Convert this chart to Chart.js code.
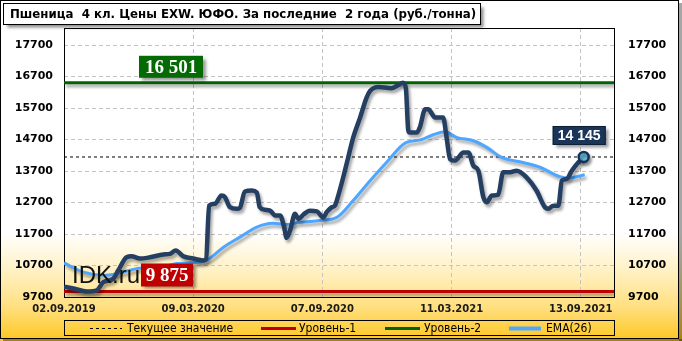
<!DOCTYPE html>
<html>
<head>
<meta charset="utf-8">
<script src="https://cdn.jsdelivr.net/npm/chart.js@4.4.1/dist/chart.umd.min.js"></script>
<style>
  html, body { margin: 0; padding: 0; background: #fff; }
  canvas { display: block; }
</style>
</head>
<body>
<canvas id="wheatChart" width="682" height="341"></canvas>
<script>
// --- data (x = weeks since 02.09.2019) ---
const titleText = 'Пшеница  4 кл. Цены EXW. ЮФО. За последние  2 года (руб./тонна)';
const xTickWeeks = [0, 26, 52, 78, 104];
const xTickLabels = ['02.09.2019', '09.03.2020', '07.09.2020', '11.03.2021', '13.09.2021'];
const yTicks = [9700, 10700, 11700, 12700, 13700, 14700, 15700, 16700, 17700];
const xMax = 110.7;
const yMin = 9700;
const yMax = 18240;

const priceWeeks = [0, 1.9, 4.6, 6.6, 7.9, 9.9, 10.9, 12.6, 13.6, 15.3, 17.3, 20.0, 21.3, 22.5, 24.0, 26.0,
  28.0, 28.6, 29.2, 30.4, 31.7, 32.4, 33.4, 34.8, 35.4, 36.4, 37.8, 38.8, 39.4, 40.5, 41.5, 42.5, 43.5,
  44.3, 44.8, 45.5, 46.5, 47.2, 48.2, 49.5, 50.9, 52.2, 52.9, 53.9, 54.5, 55.2, 56.2, 57.2, 58.2, 59.6,
  60.9, 61.6, 63.3, 65.9, 67.3, 68.2, 68.8, 69.3, 69.6, 71.0, 71.6, 72.7, 73.3, 74.7, 76.3, 77.0, 77.7,
  78.7, 80.4, 81.4, 82.4, 83.4, 84.4, 85.1, 86.1, 87.4, 88.4, 89.8, 91.1, 93.1, 95.1, 96.8, 97.5, 98.5,
  99.5, 100.2, 101.2, 102.2, 103.5, 104.6];
const priceValues = [10030, 9970, 9875, 9910, 10170, 10280, 10540, 10960, 10990, 10920, 10960, 11050, 11070, 11180, 10990, 10920,
  10860, 10900, 12600, 12660, 12920, 12870, 12550, 12500, 12530, 13050, 13080, 13020, 12550, 12470, 12440, 12290, 12290,
  11920, 11580, 11810, 12340, 12180, 12320, 12440, 12420, 12230, 12400, 12550, 12600, 12920, 13500, 14130, 14760, 15400,
  16030, 16240, 16370, 16330, 16430, 16501, 16330, 14980, 14920, 14920, 15080, 15660, 15660, 15400, 15400, 14770, 14080,
  14030, 14290, 14290, 13870, 13710, 12870, 12710, 12920, 12950, 13660, 13660, 13710, 13500, 13080, 12550, 12500, 12600,
  12600, 13390, 13450, 13710, 13970, 14145];

const emaWeeks = [0, 3.9, 7.9, 10.6, 14.6, 19.3, 22.7, 27.4, 28.7, 32.1, 35.4, 38.8, 42.1, 44.8, 47.5, 51.5,
  54.9, 58.2, 61.6, 64.9, 68.9, 71.6, 74.3, 76.7, 79.0, 82.4, 85.1, 88.1, 92.4, 95.8, 99.8, 101.8, 104.8];
const emaValues = [10780, 10490, 10390, 10440, 10600, 10650, 10760, 10810, 10860, 11280, 11600, 11920, 12040, 12000, 12070, 12130,
  12230, 12760, 13390, 13970, 14610, 14680, 14850, 14950, 14770, 14660, 14450, 14130, 13970, 13820, 13520, 13480, 13580];

const currentValue = 14145;
const level1 = 9875;
const level2 = 16501;
const legendNames = ['Текущее значение', 'Уровень-1', 'Уровень-2', 'EMA(26)'];

const pts = (xs, ys) => xs.map((x, i) => ({ x: x, y: ys[i] }));
const flat = v => [{ x: 0, y: v }, { x: xMax, y: v }];
const fmt = v => String(v).replace(/\B(?=(\d{3})+(?!\d))/g, ' ');

// background, outer frame and title box
const backdrop = {
  id: 'backdrop',
  beforeDraw(chart) {
    const ctx = chart.ctx;
    ctx.save();
    const g = ctx.createLinearGradient(0, 0, 0, 341);
    g.addColorStop(0, '#ffffff');
    g.addColorStop(0.68, '#ffffff');
    g.addColorStop(0.78, '#fff3cc');
    g.addColorStop(0.9, '#ffe080');
    g.addColorStop(1, '#ffc620');
    ctx.fillStyle = g;
    ctx.fillRect(0, 0, 682, 341);
    ctx.fillStyle = 'rgba(0,0,0,0.35)';
    ctx.fillRect(679, 3, 3, 338);
    ctx.fillRect(3, 339, 679, 2);
    ctx.strokeStyle = '#000';
    ctx.lineWidth = 1;
    ctx.strokeRect(0.5, 0.5, 678, 338);

    ctx.shadowColor = 'rgba(0,0,0,0.45)';
    ctx.shadowBlur = 3;
    ctx.shadowOffsetX = 3;
    ctx.shadowOffsetY = 3;
    ctx.fillStyle = '#fff';
    ctx.fillRect(3.5, 3.5, 477, 21);
    ctx.shadowColor = 'transparent';
    ctx.strokeStyle = '#000';
    ctx.strokeRect(3.5, 3.5, 477, 21);
    ctx.fillStyle = '#000';
    ctx.font = 'bold 13.1px "DejaVu Sans Condensed"';
    ctx.textBaseline = 'middle';
    ctx.fillText(titleText, 10, 14.5);
    ctx.restore();
  },
  beforeDatasetsDraw(chart) {
    const { ctx, chartArea: a } = chart;
    ctx.save();
    ctx.strokeStyle = '#000';
    ctx.lineWidth = 1;
    ctx.strokeRect(Math.round(a.left) + 0.5, Math.round(a.top) + 0.5, Math.round(a.right - a.left), Math.round(a.bottom - a.top));
    ctx.restore();
  }
};

const shadows = {
  id: 'shadows',
  beforeDatasetDraw(chart, args) {
    if (!chart.data.datasets[args.index].shadow) return;
    const ctx = chart.ctx;
    ctx.save();
    ctx.shadowColor = 'rgba(0,0,0,0.35)';
    ctx.shadowBlur = 3;
    ctx.shadowOffsetX = 2;
    ctx.shadowOffsetY = 3;
  },
  afterDatasetDraw(chart, args) {
    if (chart.data.datasets[args.index].shadow) chart.ctx.restore();
  }
};

function tag(ctx, text, x, top, w, h, bg, font, border) {
  ctx.save();
  ctx.shadowColor = 'rgba(0,0,0,0.4)';
  ctx.shadowBlur = 3;
  ctx.shadowOffsetX = 3;
  ctx.shadowOffsetY = 3;
  ctx.fillStyle = bg;
  ctx.fillRect(x, top, w, h);
  ctx.shadowColor = 'transparent';
  if (border) {
    ctx.strokeStyle = border;
    ctx.lineWidth = 1;
    ctx.strokeRect(x + 0.5, top + 0.5, w - 1, h - 1);
  }
  ctx.fillStyle = '#fff';
  ctx.font = font;
  ctx.textAlign = 'center';
  ctx.textBaseline = 'middle';
  ctx.fillText(text, x + w / 2, top + h / 2 + 1);
  ctx.restore();
}

const labels = {
  id: 'labels',
  afterDatasetsDraw(chart) {
    const ctx = chart.ctx;
    const y = chart.scales.y;
    const x = chart.scales.x;
    ctx.save();
    ctx.fillStyle = '#111';
    ctx.font = '24px "Liberation Sans"';
    ctx.textBaseline = 'alphabetic';
    ctx.fillText('IDK.ru', 72, 283);
    ctx.restore();
    tag(ctx, fmt(level2), 139, y.getPixelForValue(level2) - 27, 64, 22, '#046a04', 'bold 19px "Liberation Serif"');
    tag(ctx, fmt(level1), 141, y.getPixelForValue(level1) - 28, 52, 23, '#c00000', 'bold 19px "Liberation Serif"');
    const lx = x.getPixelForValue(priceWeeks[priceWeeks.length - 1]);
    tag(ctx, fmt(currentValue), lx - 31, y.getPixelForValue(currentValue) - 31, 53, 19, '#1b3558', 'bold 14px "Liberation Sans"', '#0d1f38');
  },
  afterDraw(chart) {
    const ctx = chart.ctx;
    ctx.save();
    ctx.strokeStyle = '#000';
    ctx.lineWidth = 1;
    ctx.strokeRect(64.5, 320.5, 550, 15);
    const items = [
      { x1: 90, x2: 122, tx: 127, color: '#000', dash: [3, 3], w: 1 },
      { x1: 261, x2: 296, tx: 299, color: '#c00000', dash: [], w: 3 },
      { x1: 385, x2: 420, tx: 424, color: '#006400', dash: [], w: 3 },
      { x1: 509, x2: 541, tx: 546, color: '#4da6ff', dash: [], w: 4 }
    ];
    ctx.font = '12px "DejaVu Sans Condensed"';
    ctx.textBaseline = 'middle';
    items.forEach((it, i) => {
      ctx.beginPath();
      ctx.setLineDash(it.dash);
      ctx.strokeStyle = it.color;
      ctx.lineWidth = it.w;
      ctx.moveTo(it.x1, 328.5);
      ctx.lineTo(it.x2, 328.5);
      ctx.stroke();
      ctx.fillStyle = '#000';
      ctx.fillText(legendNames[i], it.tx, 328.5);
    });
    ctx.restore();
  }
};

const tickFont = { family: 'DejaVu Sans', weight: 'bold', size: 11 };
const gridDash = [4, 3];

new Chart(document.getElementById('wheatChart'), {
  type: 'line',
  data: {
    datasets: [
      {
        label: 'price', data: pts(priceWeeks, priceValues), shadow: true, order: 1,
        borderColor: '#243f62', borderWidth: 4.5, cubicInterpolationMode: 'monotone',
        pointRadius: c => c.dataIndex === priceValues.length - 1 ? 5 : 0,
        pointBackgroundColor: '#6ab9d8', pointBorderColor: '#15325a', pointBorderWidth: 2.5
      },
      {
        label: legendNames[3], data: pts(emaWeeks, emaValues), shadow: true, order: 2,
        borderColor: '#4da6ff', borderWidth: 3, cubicInterpolationMode: 'monotone', pointRadius: 0
      },
      {
        label: legendNames[0], data: flat(currentValue), order: 3,
        borderColor: '#000', borderWidth: 1, borderDash: [3, 3], pointRadius: 0
      },
      {
        label: legendNames[2], data: flat(level2), shadow: true, order: 4,
        borderColor: '#006400', borderWidth: 3, pointRadius: 0
      },
      {
        label: legendNames[1], data: flat(level1), shadow: true, order: 5,
        borderColor: '#c00000', borderWidth: 3, pointRadius: 0
      }
    ]
  },
  options: {
    responsive: false,
    animation: false,
    events: [],
    devicePixelRatio: 1,
    layout: { padding: { top: 28, left: 0, right: 0, bottom: 0 } },
    plugins: { legend: { display: false }, tooltip: { enabled: false } },
    scales: {
      x: {
        type: 'linear', min: 0, max: xMax,
        afterBuildTicks: s => { s.ticks = xTickWeeks.map(v => ({ value: v })); },
        afterFit: s => { s.height = 44; },
        grid: { color: c => c.index === 0 ? 'rgba(0,0,0,0)' : '#c4c4c4', drawTicks: false },
        border: { display: false, dash: gridDash },
        ticks: {
          padding: 6, maxRotation: 0, autoSkip: false, color: '#1a1a1a',
          font: { family: 'DejaVu Sans', weight: 'bold', size: 10 },
          callback: v => xTickLabels[xTickWeeks.indexOf(v)]
        }
      },
      y: {
        min: yMin, max: yMax,
        afterBuildTicks: s => { s.ticks = yTicks.map(v => ({ value: v })); },
        afterFit: s => { s.width = 64; },
        grid: { color: c => c.index === 0 ? 'rgba(0,0,0,0)' : '#c4c4c4', drawTicks: false },
        border: { display: false, dash: gridDash },
        ticks: { padding: 11, color: '#000', font: tickFont, callback: v => String(v) }
      },
      y2: {
        position: 'right', min: yMin, max: yMax,
        afterBuildTicks: s => { s.ticks = yTicks.map(v => ({ value: v })); },
        afterFit: s => { s.width = 68; },
        grid: { display: false, drawTicks: false },
        border: { display: false },
        ticks: { padding: 14, color: '#000', font: tickFont, callback: v => String(v) }
      }
    }
  },
  plugins: [backdrop, shadows, labels]
});
</script>
</body>
</html>
